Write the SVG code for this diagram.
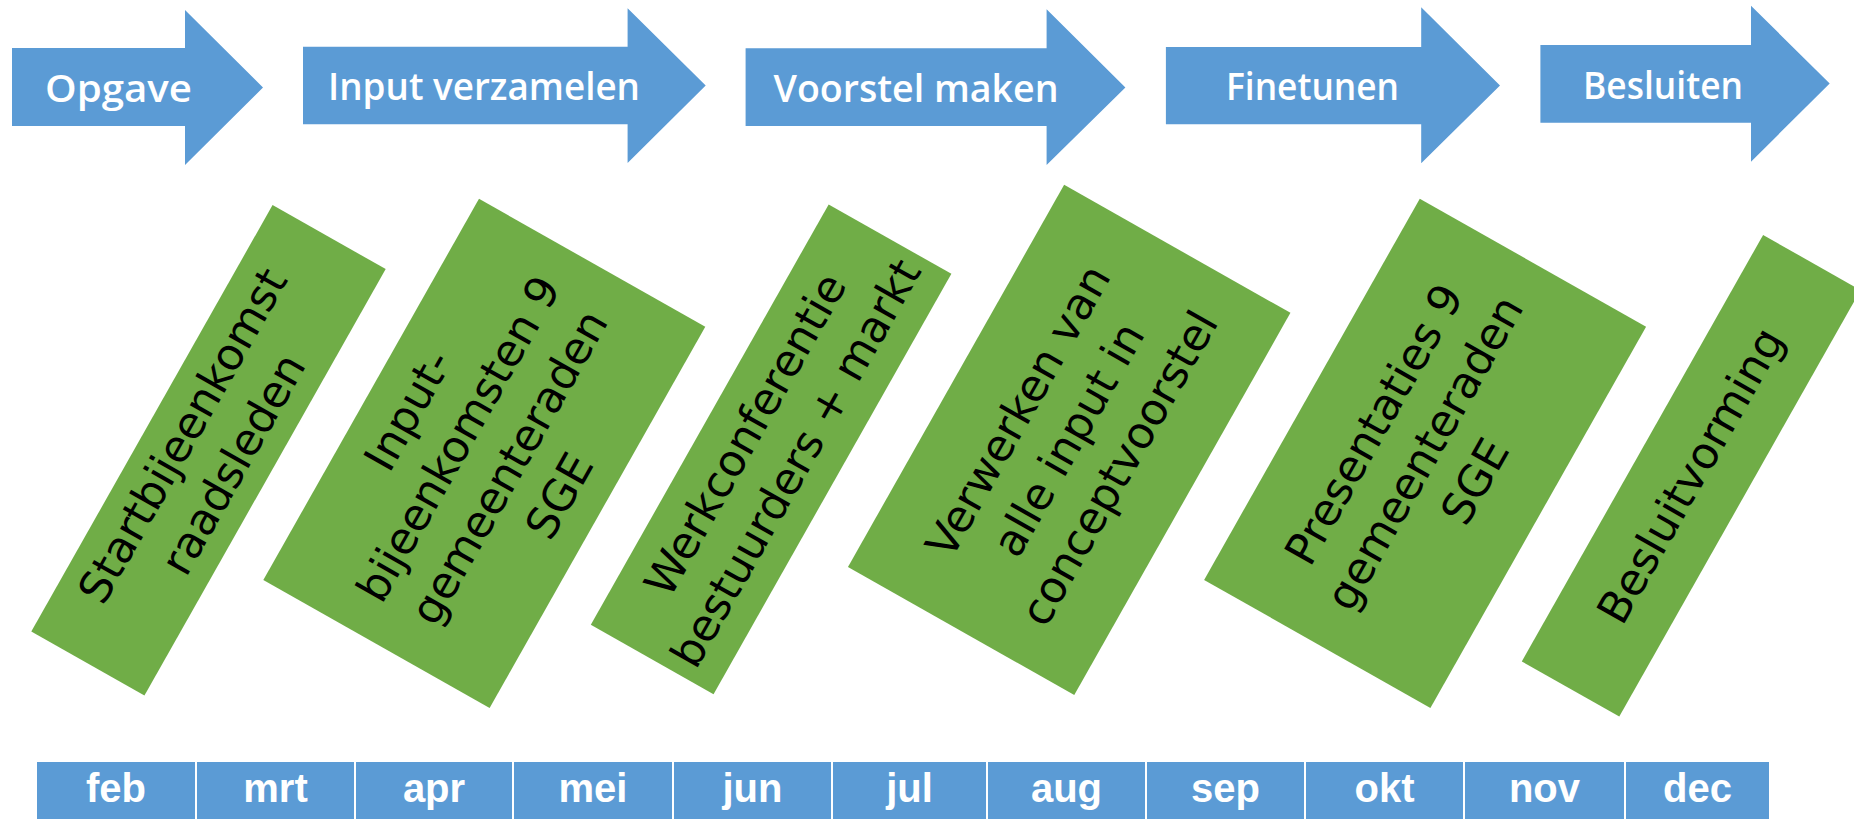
<svg xmlns="http://www.w3.org/2000/svg" width="1854" height="819" viewBox="0 0 1854 819">
<style>
.arrow{fill:#5B9BD5}
.alabel{font-family:"Open Sans","Liberation Sans",sans-serif;font-weight:600;font-size:38px;fill:#fff;text-anchor:middle}
.box{fill:#70AD47}
.btext{font-family:"DejaVu Sans","Liberation Sans",sans-serif;font-size:44px;fill:#000;text-anchor:middle}
.cell{fill:#5B9BD5}
.mtext{font-family:"Liberation Sans",Arial,sans-serif;font-weight:bold;font-size:40px;fill:#fff;text-anchor:middle}
</style>
<rect width="1854" height="819" fill="#fff"/>
<g id="phases">
<g id="phase-opgave">
<polygon class="arrow" points="12,48 185,48 185,10 263,87.5 185,165 185,126 12,126"/>
<text class="alabel" x="118.5" y="101.5" textLength="147" lengthAdjust="spacingAndGlyphs">Opgave</text>
</g>
<g id="phase-input">
<polygon class="arrow" points="303,46.7 627.6,46.7 627.6,8.3 705.7,85.6 627.6,163 627.6,124.3 303,124.3"/>
<text class="alabel" x="484" y="100" textLength="312" lengthAdjust="spacingAndGlyphs">Input verzamelen</text>
</g>
<g id="phase-voorstel">
<polygon class="arrow" points="745.6,48.3 1046.6,48.3 1046.6,9.3 1125.4,87.5 1046.6,165 1046.6,126 745.6,126"/>
<text class="alabel" x="916" y="101.5" textLength="285" lengthAdjust="spacingAndGlyphs">Voorstel maken</text>
</g>
<g id="phase-finetunen">
<polygon class="arrow" points="1165.9,47 1421.2,47 1421.2,7.3 1500,85.5 1421.2,163.3 1421.2,124.3 1165.9,124.3"/>
<text class="alabel" x="1312.5" y="99.5" textLength="173" lengthAdjust="spacingAndGlyphs">Finetunen</text>
</g>
<g id="phase-besluiten">
<polygon class="arrow" points="1540.4,45 1751,45 1751,5.7 1829.7,83.5 1751,161.7 1751,122.7 1540.4,122.7"/>
<text class="alabel" x="1663" y="98.5" textLength="160" lengthAdjust="spacingAndGlyphs">Besluiten</text>
</g>
</g>
<g id="activities">
<g id="act-start" transform="translate(208.5,450.3) rotate(-60.5)">
<rect class="box" x="-245" y="-65" width="490" height="130"/>
<text class="btext" y="-14.5">Startbijeenkomst</text>
<text class="btext" y="43.5">raadsleden</text>
</g>
<g id="act-inputbijeenkomsten" transform="translate(484.3,453.4) rotate(-60.5)">
<rect class="box" x="-219" y="-130" width="438" height="260"/>
<text class="btext" y="-72.5">Input-</text>
<text class="btext" y="-14.5">bijeenkomsten 9</text>
<text class="btext" y="43.5">gemeenteraden</text>
<text class="btext" y="101.5">SGE</text>
</g>
<g id="act-werkconferentie" transform="translate(771.1,449.3) rotate(-60.5)">
<rect class="box" x="-241.5" y="-70.5" width="483" height="141"/>
<text class="btext" y="-14.5">Werkconferentie</text>
<text class="btext" y="43.5">bestuurders + markt</text>
</g>
<g id="act-verwerken" transform="translate(1069.2,439.9) rotate(-60.5)">
<rect class="box" x="-219.5" y="-130" width="439" height="260"/>
<text class="btext" y="-43.5">Verwerken van</text>
<text class="btext" y="14.5">alle input in</text>
<text class="btext" y="72.5">conceptvoorstel</text>
</g>
<g id="act-presentaties" transform="translate(1425.1,453.3) rotate(-60.5)">
<rect class="box" x="-219" y="-130" width="438" height="260"/>
<text class="btext" y="-43.5">Presentaties 9</text>
<text class="btext" y="14.5">gemeenteraden</text>
<text class="btext" y="72.5">SGE</text>
</g>
<g id="act-besluitvorming" transform="translate(1691.2,475.8) rotate(-60.5)">
<rect class="box" x="-245" y="-56" width="490" height="112"/>
<text class="btext" y="14.5">Besluitvorming</text>
</g>
</g>
<g id="months">
<g id="m-feb"><rect class="cell" x="37" y="762" width="158" height="57"/><text class="mtext" x="116" y="801.5">feb</text></g>
<g id="m-mrt"><rect class="cell" x="197" y="762" width="157" height="57"/><text class="mtext" x="275.5" y="801.5">mrt</text></g>
<g id="m-apr"><rect class="cell" x="356" y="762" width="156" height="57"/><text class="mtext" x="434" y="801.5">apr</text></g>
<g id="m-mei"><rect class="cell" x="514" y="762" width="158" height="57"/><text class="mtext" x="593" y="801.5">mei</text></g>
<g id="m-jun"><rect class="cell" x="674" y="762" width="157" height="57"/><text class="mtext" x="752.5" y="801.5">jun</text></g>
<g id="m-jul"><rect class="cell" x="833" y="762" width="153" height="57"/><text class="mtext" x="909.5" y="801.5">jul</text></g>
<g id="m-aug"><rect class="cell" x="988" y="762" width="157" height="57"/><text class="mtext" x="1066.5" y="801.5">aug</text></g>
<g id="m-sep"><rect class="cell" x="1147" y="762" width="157" height="57"/><text class="mtext" x="1225.5" y="801.5">sep</text></g>
<g id="m-okt"><rect class="cell" x="1306" y="762" width="157" height="57"/><text class="mtext" x="1384.5" y="801.5">okt</text></g>
<g id="m-nov"><rect class="cell" x="1465" y="762" width="159" height="57"/><text class="mtext" x="1544.5" y="801.5">nov</text></g>
<g id="m-dec"><rect class="cell" x="1626" y="762" width="143" height="57"/><text class="mtext" x="1697.5" y="801.5">dec</text></g>
</g>
<g id="connectors"/>
</svg>
